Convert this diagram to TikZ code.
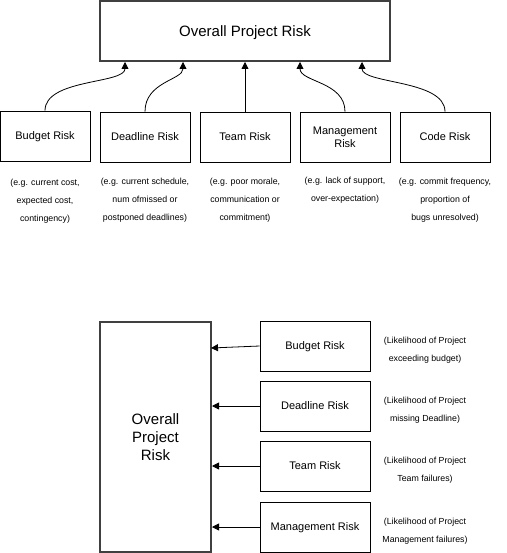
\documentclass[tikz,border=0pt]{standalone}
\usepackage{fontspec}
\setmainfont{Liberation Sans}
\usetikzlibrary{arrows.meta}
\begin{document}
\begin{tikzpicture}[x=1pt,y=-1pt,
  bigbox/.style={draw=black!75, line width=2pt, inner sep=0pt, text depth=0pt, font=\fontsize{15}{18}\selectfont, align=center},
  riskbox/.style={draw=black, line width=0.8pt, minimum width=90pt, minimum height=50pt, inner sep=0pt, text depth=0pt, font=\fontsize{11}{13}\selectfont, align=center},
  desc/.style={font=\fontsize{8.8}{18}\selectfont, align=center, inner sep=0pt},
  arr/.style={-{Triangle[width=7pt,length=7pt]}, line width=0.8pt}]
\useasboundingbox (0,0) rectangle (506,553);
% top
\node[bigbox, minimum width=290pt, minimum height=60pt] (top) at (245,31) {Overall Project Risk};
\node[riskbox] (b1) at (45,136) {Budget Risk};
\node[riskbox] (d1) at (145,137) {Deadline Risk};
\node[riskbox] (t1) at (245,137) {Team Risk};
\node[riskbox] (m1) at (345,137) {Management\\Risk};
\node[riskbox] (c1) at (445,137) {Code Risk};
\coordinate (ab) at (125,62);
\coordinate (ad) at (183,62);
\coordinate (am) at (300,62);
\coordinate (ac) at (362,62);
\draw[arr] (b1.north) .. controls +(0,-32) and +(0,22) .. (ab);
\draw[arr] (d1.north) .. controls +(0,-30) and +(0,18) .. (ad);
\draw[arr] (t1.north) -- (t1.north |- top.south);
\draw[arr] (m1.north) .. controls +(0,-30) and +(0,20) .. (am);
\draw[arr] (c1.north) .. controls +(0,-32) and +(0,22) .. (ac);
\node[desc] (bd) at (45,201) {(e.g. current cost,\\expected cost,\\contingency)};
\node[desc] (dd) at (145,200) {(e.g. current schedule,\\num ofmissed or\\postponed deadlines)};
\node[desc] (td) at (245,200) {(e.g. poor morale,\\communication or\\commitment)};
\node[desc] (md) at (345,190) {(e.g. lack of support,\\over-expectation)};
\node[desc] (cd) at (445,200) {(e.g. commit frequency,\\proportion of\\bugs unresolved)};
% bottom
\node[bigbox, minimum width=111pt, minimum height=230pt] (big) at (155.5,437) {Overall\\Project\\Risk};
\node[riskbox, minimum width=110pt] (b2) at (315,346) {Budget Risk};
\node[riskbox, minimum width=110pt] (d2) at (315,406) {Deadline Risk};
\node[riskbox, minimum width=110pt] (t2) at (315,466) {Team Risk};
\node[riskbox, minimum width=110pt] (m2) at (315,527) {Management Risk};
\coordinate (eb) at (211,348);
\draw[arr] (b2.west) -- (eb);
\draw[arr] (d2.west) -- (d2.west -| big.east);
\draw[arr] (t2.west) -- (t2.west -| big.east);
\draw[arr] (m2.west) -- (m2.west -| big.east);
\node[desc] (bd2) at (425,350) {(Likelihood of Project\\exceeding budget)};
\node[desc] (dd2) at (425,410) {(Likelihood of Project\\missing Deadline)};
\node[desc] (td2) at (425,470) {(Likelihood of Project\\Team failures)};
\node[desc] (md2) at (425,531) {(Likelihood of Project\\Management failures)};
\end{tikzpicture}
\end{document}
